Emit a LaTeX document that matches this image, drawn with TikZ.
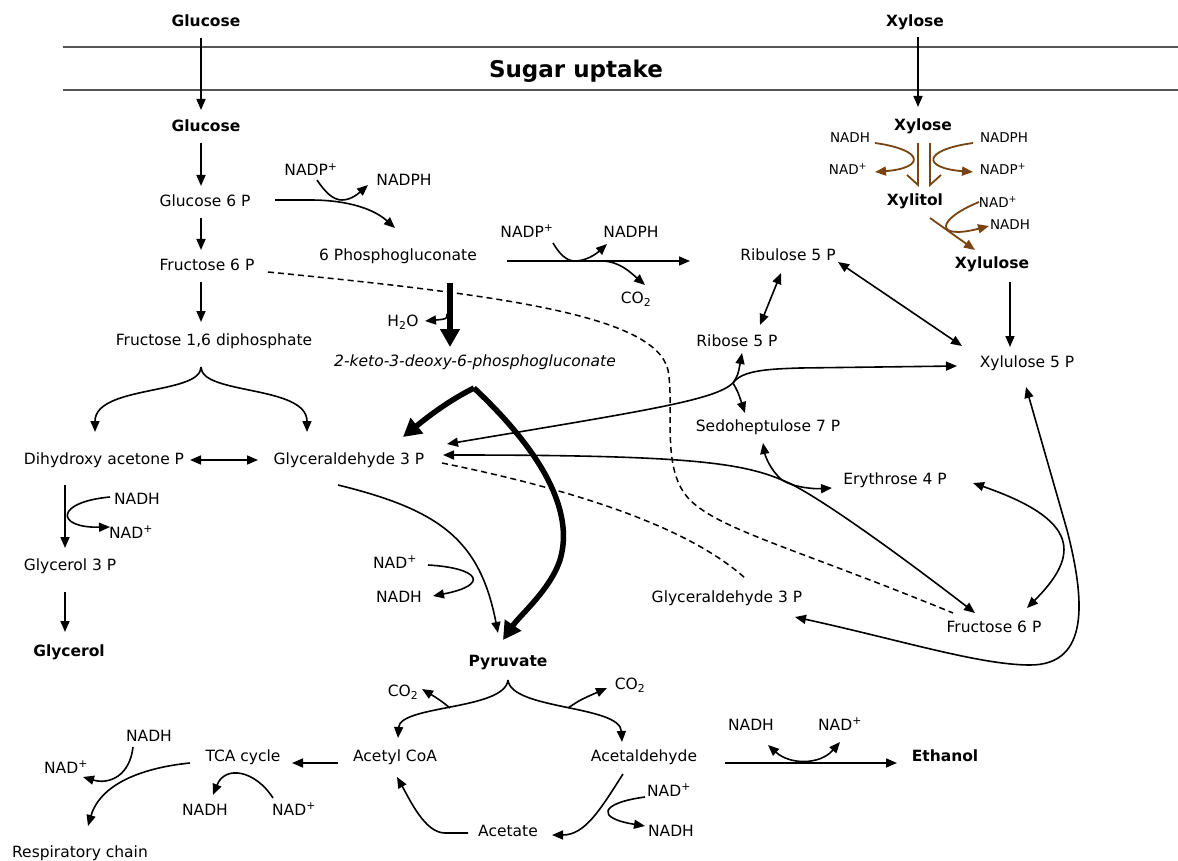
\documentclass[tikz,border=0pt]{standalone}
\usepackage{fontspec}
\setmainfont{DejaVu Sans}
\usetikzlibrary{arrows.meta,calc}
\definecolor{xylbrown}{RGB}{120,68,18}
\definecolor{membrane}{RGB}{85,85,85}
\newcommand{\nadp}{NAD\textsuperscript{+}}
\newcommand{\nadpp}{NADP\textsuperscript{+}}
\tikzset{
  met/.style={inner sep=1pt, text height=11.5pt, text depth=3.5pt},
  key/.style={met, font=\fontsize{15.5}{18}\selectfont\bfseries},
  cof/.style={inner sep=1pt, text height=10pt, text depth=3pt, font=\fontsize{13.5}{16}\selectfont},
  rxn/.style={-{Triangle[length=11pt,width=9pt]}, line width=1.6pt},
  rev/.style={{Triangle[length=11pt,width=9pt]}-{Triangle[length=11pt,width=9pt]}, line width=1.6pt},
  main/.style={-{Triangle[length=18pt,width=19pt]}, line width=5.5pt},
  link/.style={line width=1.5pt, dash pattern=on 6pt off 4pt},
  xylrxn/.style={draw=xylbrown, line width=1.8pt, -{Triangle[length=11pt,width=9pt]}},
}
\begin{document}
\begin{tikzpicture}[x=1pt, y=-1pt, font=\fontsize{15.5}{18}\selectfont]
\useasboundingbox[fill=white] (0,0) rectangle (1178,861);

% membrane
\draw[membrane, line width=1.5pt] (63,47) -- (1178,47);
\draw[membrane, line width=1.5pt] (63,90) -- (1178,90);
\node[font=\fontsize{23}{27}\selectfont\bfseries] (uptake) at (576,71) {Sugar uptake};

% glycolysis
\node[key] (glcout) at (206,23) {Glucose};
\node[key] (glc) at (206,128) {Glucose};
\node[met] (gsix) at (205,203) {Glucose 6 P};
\node[met] (fsix) at (207,266) {Fructose 6 P};
\node[met] (fbp) at (214,341) {Fructose 1,6 diphosphate};
\node[met] (dhap) at (104,460) {Dihydroxy acetone P};
\node[met] (gap) at (349,460) {Glyceraldehyde 3 P};
\node[met] (glyp) at (70,566) {Glycerol 3 P};
\node[key] (glyc) at (69,652) {Glycerol};
\node[met] (nadhA) at (137,500) {NADH};
\node[met] (nadA) at (131,534) {\nadp};

% Entner-Doudoroff / pentose phosphate
\node[met] (nadpA) at (311,172) {\nadpp};
\node[met] (nadphA) at (404,182) {NADPH};
\node[met] (pgl) at (398,257) {6 Phosphogluconate};
\node[met] (water) at (403,322) {H\textsubscript{2}O};
\node[met, font=\fontsize{15.5}{18}\selectfont\itshape] (kdpg) at (475,362) {2-keto-3-deoxy-6-phosphogluconate};
\node[met] (nadpB) at (527,233) {\nadpp};
\node[met] (nadphB) at (631,233) {NADPH};
\node[met] (coA) at (636,299) {CO\textsubscript{2}};
\node[met] (ru5p) at (788,257) {Ribulose 5 P};
\node[met] (r5p) at (737,342) {Ribose 5 P};
\node[met] (s7p) at (768,427) {Sedoheptulose 7 P};
\node[met] (e4p) at (895,480) {Erythrose 4 P};
\node[met] (fsixR) at (994,628) {Fructose 6 P};
\node[met] (gapR) at (727,598) {Glyceraldehyde 3 P};
\node[met] (xu5p) at (1027,363) {Xylulose 5 P};

% xylose
\node[key] (xylout) at (915,23) {Xylose};
\node[key] (xyl) at (923,127) {Xylose};
\node[key] (xylt) at (915,202) {Xylitol};
\node[key] (xylu) at (992,265) {Xylulose};
\node[cof] (nadhX) at (850,139) {NADH};
\node[cof] (nadX) at (848,171) {\nadp};
\node[cof] (nadphX) at (1004,139) {NADPH};
\node[cof] (nadpX) at (1003,171) {\nadpp};
\node[cof] (nadY) at (998,204) {\nadp};
\node[cof] (nadhY) at (1010,226) {NADH};

% pyruvate and beyond
\node[met] (nadB) at (395,564) {\nadp};
\node[met] (nadhB) at (399,598) {NADH};
\node[key] (pyr) at (508,662) {Pyruvate};
\node[met] (coB) at (403,692) {CO\textsubscript{2}};
\node[met] (coC) at (630,685) {CO\textsubscript{2}};
\node[met] (accoa) at (395,757) {Acetyl CoA};
\node[met] (acald) at (644,757) {Acetaldehyde};
\node[met] (acet) at (508,832) {Acetate};
\node[met] (nadC) at (669,792) {\nadp};
\node[met] (nadhC) at (671,832) {NADH};
\node[met] (tca) at (243,757) {TCA cycle};
\node[met] (nadhD) at (205,811) {NADH};
\node[met] (nadD) at (294,811) {\nadp};
\node[met] (nadhE) at (149,737) {NADH};
\node[met] (nadE) at (66,769) {\nadp};
\node[met] (resp) at (80,853) {Respiratory chain};
\node[met] (nadhF) at (751,726) {NADH};
\node[met] (nadF) at (840,726) {\nadp};
\node[key] (etoh) at (945,757) {Ethanol};

% uptake and glycolysis arrows
\draw[rxn] ($(glcout)+(-5,15)$) -- ($(glc)+(-5,-18)$);
\draw[rxn] ($(glc)+(-5,15)$) -- ($(gsix)+(-4,-17)$);
\draw[rxn] ($(gsix)+(-4,15)$) -- ($(fsix)+(-6,-16)$);
\draw[rxn] ($(fsix)+(-6,16)$) -- ($(fbp)+(-13,-19)$);
\coordinate (fbpfork) at ($(fbp)+(-13,26)$);
\draw[rxn] (fbpfork) .. controls (201,395) and (95,385) .. ($(dhap)+(-9,-28)$);
\draw[rxn] (fbpfork) .. controls (201,395) and (307,385) .. ($(gap)+(-42,-28)$);
\draw[rev] ($(dhap)+(86,0)$) -- ($(gap)+(-91,0)$);
\draw[rxn] ($(dhap)+(-39,25)$) -- ($(glyp)+(-5,-18)$);
\draw[rxn] ($(nadhA)+(-27,-3)$) .. controls (55,502) and (55,528) .. ($(nadA)+(-21,-7)$);
\draw[rxn] ($(glyp)+(-5,26)$) -- ($(glyc)+(-4,-20)$);

% oxidative branch
\draw[rxn] ($(gsix)+(70,-3)$) -- (310,200) .. controls (350,200) and (375,210) .. ($(pgl)+(-3,-29)$);
\draw[rxn] ($(nadpA)+(6,8)$) .. controls (325,192) and (333,200) .. (342,200) .. controls (352,200) and (360,192) .. ($(nadphA)+(-36,3)$);
\draw[main] ($(pgl)+(52,26)$) -- ($(kdpg)+(-25,-15)$);
\draw[rxn] ($(pgl)+(49,57)$) .. controls (447,319) .. ($(water)+(22,-1)$);
\draw[rxn] ($(pgl)+(109,4)$) -- ($(ru5p)+(-98,4)$);
\draw[rxn] ($(nadpB)+(26,10)$) .. controls (560,255) and (567,261) .. (575,261) .. controls (585,261) and (595,255) .. ($(nadphB)+(-24,11)$);
\draw[rxn] (603,261) .. controls (620,262) and (630,272) .. ($(coA)+(9,-14)$);

% non-oxidative branch
\draw[rev] ($(ru5p)+(-7,16)$) -- ($(r5p)+(23,-17)$);
\draw[rev] ($(ru5p)+(50,5)$) -- ($(xu5p)+(-65,-17)$);
\draw[rxn] ($(xylu)+(18,17)$) -- ($(xu5p)+(-17,-16)$);
\coordinate (tkA) at (733,383);
\draw[rxn] (tkA) .. controls (742,370) and (770,369) .. (800,368) -- ($(xu5p)+(-70,3)$);
\draw[rxn] (tkA) .. controls (715,400) and (650,410) .. ($(gap)+(98,-16)$);
\draw[rxn] (tkA) .. controls (738,375) .. ($(r5p)+(5,11)$);
\draw[rxn] (tkA) .. controls (738,392) .. ($(s7p)+(-23,-14)$);
\coordinate (taB) at (782,480);
\draw[rxn] (taB) .. controls (740,462) and (680,455) .. ($(gap)+(94,-5)$);
\draw[rxn] (taB) .. controls (810,490) and (900,555) .. ($(fsixR)+(-19,-15)$);
\draw[rxn] (taB) .. controls (770,470) and (765,455) .. ($(s7p)+(-5,16)$);
\draw[rxn] (taB) .. controls (795,488) and (815,489) .. ($(e4p)+(-63,8)$);
\coordinate (tkC) at (1067,530);
\draw[rev] ($(xu5p)+(-1,24)$) -- (tkC) .. controls (1085,600) and (1090,665) .. (1030,665) .. controls (980,665) and (900,640) .. ($(gapR)+(68,19)$);
\draw[rev] ($(e4p)+(78,3)$) .. controls (1080,520) and (1080,555) .. ($(fsixR)+(33,-20)$);
\draw[link] ($(fsix)+(61,6)$) .. controls (500,295) and (655,315) .. (668,370) .. controls (675,410) and (660,470) .. (690,500) .. controls (720,530) and (800,550) .. ($(fsixR)+(-41,-15)$);
\draw[link] ($(gap)+(93,3)$) .. controls (550,485) and (680,520) .. ($(gapR)+(18,-20)$);

% Entner-Doudoroff split
\coordinate (split) at ($(kdpg)+(-1,26)$);
\draw[main] (split) .. controls (450,400) and (430,415) .. ($(gap)+(54,-23)$);
\draw[main] (split) .. controls (540,450) and (575,510) .. (560,560) .. controls (550,590) and (520,615) .. ($(pyr)+(-5,-22)$);
\draw[rxn] ($(gap)+(-11,25)$) .. controls (440,510) and (480,540) .. ($(pyr)+(-10,-29)$);
\draw[rxn] ($(nadB)+(33,1)$) .. controls (480,568) and (490,585) .. ($(nadhB)+(34,-2)$);

% xylose reactions
\draw[rxn] ($(xylout)+(3,14)$) -- ($(xyl)+(-5,-20)$);
\draw[xylrxn, -{Straight Barb[harpoon,swap,length=10pt,width=22pt]}] ($(xyl)+(-5,16)$) -- ($(xylt)+(3,-15)$);
\draw[xylrxn, -{Straight Barb[harpoon,length=10pt,width=22pt]}] ($(xyl)+(7,16)$) -- ($(xylt)+(15,-15)$);
\draw[xylrxn] ($(nadhX)+(25,4)$) .. controls (925,150) and (925,168) .. ($(nadX)+(27,1)$);
\draw[xylrxn] ($(nadphX)+(-31,4)$) .. controls (922,150) and (922,168) .. ($(nadpX)+(-30,1)$);
\draw[xylrxn] ($(xylt)+(15,16)$) -- ($(xylu)+(-17,-15)$);
\draw[xylrxn] ($(nadY)+(-19,-2)$) .. controls (935,220) and (935,240) .. ($(nadhY)+(-21,0)$);

% pyruvate branches
\coordinate (pyrfork) at ($(pyr)+(0,18)$);
\draw[rxn] (pyrfork) .. controls (505,710) and (400,705) .. ($(accoa)+(3,-19)$);
\draw[rxn] (pyrfork) .. controls (511,710) and (620,705) .. ($(acald)+(-22,-15)$);
\draw[rxn] ($(pyr)+(-58,46)$) .. controls (440,700) .. ($(coB)+(19,-3)$);
\draw[rxn] ($(pyr)+(60,46)$) .. controls (580,700) .. ($(coC)+(-23,3)$);
\draw[rxn] ($(acald)+(-21,17)$) .. controls (600,810) and (585,835) .. ($(acet)+(44,3)$);
\draw[rxn] ($(nadC)+(-24,5)$) .. controls (600,803) and (595,818) .. ($(nadhC)+(-26,-6)$);
\draw[rxn] ($(acet)+(-40,1)$) -- (445,833) .. controls (425,833) and (410,800) .. ($(accoa)+(2,20)$);
\draw[rxn] ($(accoa)+(-57,6)$) -- ($(tca)+(49,6)$);
\draw[rxn] ($(nadD)+(-21,-13)$) .. controls (255,770) and (225,765) .. ($(nadhD)+(8,-16)$);
\draw[rxn] ($(tca)+(-53,6)$) .. controls (140,768) and (100,785) .. ($(resp)+(8,-27)$);
\draw[rxn] ($(nadhE)+(-16,10)$) .. controls (130,775) and (110,785) .. ($(nadE)+(17,8)$);
\draw[rxn] ($(acald)+(81,6)$) -- ($(etoh)+(-48,6)$);
\draw[rev] ($(nadhF)+(17,19)$) .. controls (790,765) and (820,765) .. ($(nadF)+(0,16)$);
\end{tikzpicture}
\end{document}
